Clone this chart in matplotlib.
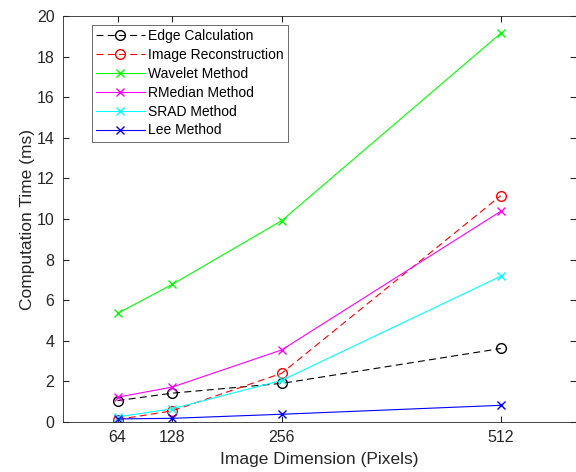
import matplotlib
matplotlib.use("Agg")
import matplotlib.pyplot as plt

plt.rcParams['font.family'] = ['Liberation Sans', 'DejaVu Sans']

dims = [64, 128, 256, 512]
edge = [1.05, 1.42, 1.90, 3.62]
recon = [0.12, 0.55, 2.40, 11.15]
wavelet = [5.35, 6.78, 9.92, 19.15]
rmedian = [1.22, 1.72, 3.55, 10.38]
srad = [0.25, 0.65, 2.05, 7.18]
lee = [0.15, 0.18, 0.38, 0.82]
yticks = list(range(0, 21, 2))

fig = plt.figure(figsize=(5.76, 4.72), dpi=100)
ax = fig.add_axes([0.109, 0.106, 0.891, 0.86])

dash = (6.3, 3.8)
ax.plot(dims, edge, '--o', color='k', mfc='none', ms=7, lw=0.8, dashes=dash, label='Edge Calculation')
ax.plot(dims, recon, '--o', color='r', mfc='none', ms=7, lw=0.8, dashes=dash, label='Image Reconstruction')
ax.plot(dims, wavelet, '-x', color=(0, 1, 0), ms=6, lw=0.8, label='Wavelet Method')
ax.plot(dims, rmedian, '-x', color=(1, 0, 1), ms=6, lw=0.8, label='RMedian Method')
ax.plot(dims, srad, '-x', color=(0, 1, 1), ms=6, lw=0.8, label='SRAD Method')
ax.plot(dims, lee, '-x', color=(0, 0, 1), ms=6, lw=0.8, label='Lee Method')

ax.set_xlim(0, 600)
ax.set_ylim(0, 20)
ax.set_xticks(dims)
ax.set_yticks(yticks)
ax.tick_params(direction='in', top=True, right=True, labelsize=11.5, colors=(0.15, 0.15, 0.15),
               length=4, pad=6)
for s in ax.spines.values():
    s.set_color((0.15, 0.15, 0.15))
    s.set_linewidth(0.6)
ax.set_xlabel('Image Dimension (Pixels)', fontsize=12.5, color=(0.15, 0.15, 0.15), labelpad=5)
ax.set_ylabel('Computation Time (ms)', fontsize=12.5, color=(0.15, 0.15, 0.15), labelpad=1)

leg = ax.legend(loc='upper left', bbox_to_anchor=(0.0565, 0.978), fontsize=10, frameon=True,
                fancybox=False, edgecolor=(0.15, 0.15, 0.15), handlelength=3.5,
                borderpad=0.3, labelspacing=0.35, handletextpad=0.25, borderaxespad=0)
leg.get_frame().set_linewidth(0.6)

fig.savefig('out.png', dpi=100)
